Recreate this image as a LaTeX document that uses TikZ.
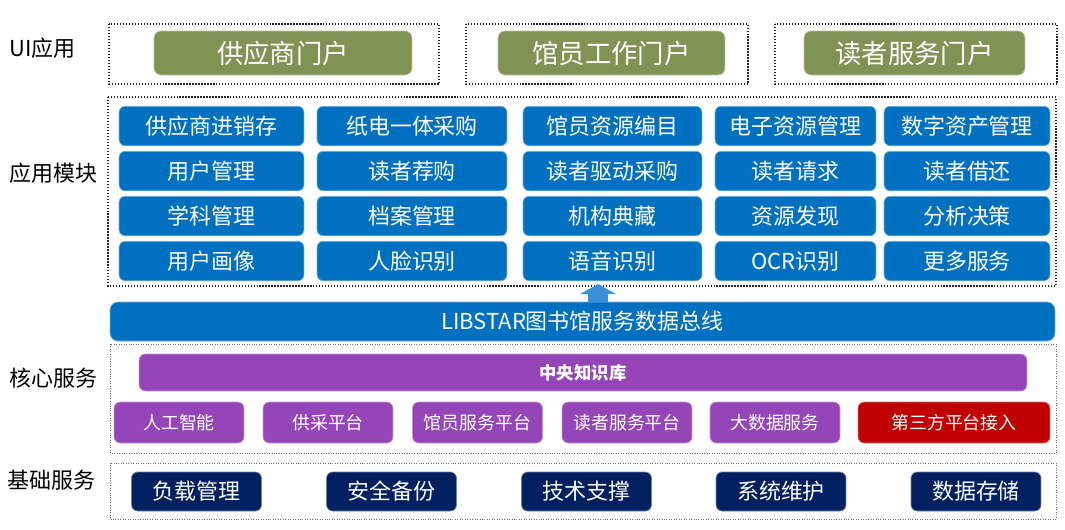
\documentclass[tikz,border=0pt]{standalone}
\usepackage{fontspec}
\setmainfont{Noto Sans CJK SC}
\usetikzlibrary{positioning,arrows.meta}
\definecolor{PortalGreen}{HTML}{7F9354}
\definecolor{ModBlue}{HTML}{0070C0}
\definecolor{BusArrow}{HTML}{3A8FD9}
\definecolor{CorePurple}{HTML}{9446B8}
\definecolor{ThirdRed}{HTML}{C00000}
\definecolor{BaseNavy}{HTML}{002060}

\tikzset{
  layer/.style={draw=black!85, line width=0.7pt, densely dotted},
  lightlayer/.style={draw=black!55, line width=0.4pt, densely dotted},
  portal/.style={fill=PortalGreen, draw=PortalGreen!55!white, line width=0.4pt,
    rounded corners=4pt, text=white, inner sep=0pt, minimum height=0.88cm,
    font=\fontsize{15}{17}\selectfont},
  module/.style={fill=ModBlue, draw=ModBlue!55!white, line width=0.4pt,
    rounded corners=3.5pt, text=white, inner sep=0pt, minimum height=0.79cm,
    font=\fontsize{12.5}{14}\selectfont},
  core/.style={fill=CorePurple, draw=CorePurple!55!white, line width=0.4pt,
    rounded corners=3.5pt, text=white, inner sep=0pt, minimum height=0.82cm,
    minimum width=2.6cm, font=\fontsize{10.2}{12}\selectfont},
  base/.style={fill=BaseNavy, draw=BaseNavy!55!white, line width=0.4pt,
    rounded corners=3.5pt, text=white, inner sep=0pt, minimum height=0.78cm,
    minimum width=2.6cm, font=\fontsize{12.5}{14}\selectfont},
  tier/.style={anchor=west, inner sep=0pt, font=\fontsize{12.5}{14}\selectfont}
}

\begin{document}
\begin{tikzpicture}[x=0.02cm, y=-0.02cm]
  \useasboundingbox (0,0) rectangle (1065,529);
  % tier labels on the left
  \node[tier] (tui)   at (9,48)  {UI应用};
  \node[tier] (tapp)  at (9,173) {应用模块};
  \node[tier] (tcore) at (9,378) {核心服务};
  \node[tier] (tbase) at (7,480) {基础服务};
  % UI tier — three portals, each in its own dotted frame
  \draw[layer] (109,24) rectangle (439,84);
  \draw[layer] (466,24) rectangle (748,84);
  \draw[layer] (775,24) rectangle (1057,84);
  \node[portal, minimum width=5.16cm] (p1) at (283,53)   {供应商门户};
  \node[portal, minimum width=4.54cm] (p2) at (611.5,53) {馆员工作门户};
  \node[portal, minimum width=4.42cm] (p3) at (914.5,53) {读者服务门户};
  % application modules — 4 rows x 5 columns
  \draw[layer] (108,97) rectangle (1056,286);
  \def\cola{211.5} \def\colb{412} \def\colc{612.5} \def\cold{795.5} \def\cole{967}
  \def\mwa{3.7cm} \def\mwb{3.8cm} \def\mwc{3.58cm} \def\mwd{3.22cm} \def\mwe{3.32cm}
  \node[module, minimum width=\mwa] (m11) at (\cola,126) {供应商进销存};
  \node[module, minimum width=\mwb] (m12) at (\colb,126) {纸电一体采购};
  \node[module, minimum width=\mwc] (m13) at (\colc,126) {馆员资源编目};
  \node[module, minimum width=\mwd] (m14) at (\cold,126) {电子资源管理};
  \node[module, minimum width=\mwe] (m15) at (\cole,126) {数字资产管理};
  \node[module, minimum width=\mwa] (m21) at (\cola,171) {用户管理};
  \node[module, minimum width=\mwb] (m22) at (\colb,171) {读者荐购};
  \node[module, minimum width=\mwc] (m23) at (\colc,171) {读者驱动采购};
  \node[module, minimum width=\mwd] (m24) at (\cold,171) {读者请求};
  \node[module, minimum width=\mwe] (m25) at (\cole,171) {读者借还};
  \node[module, minimum width=\mwa] (m31) at (\cola,216) {学科管理};
  \node[module, minimum width=\mwb] (m32) at (\colb,216) {档案管理};
  \node[module, minimum width=\mwc] (m33) at (\colc,216) {机构典藏};
  \node[module, minimum width=\mwd] (m34) at (\cold,216) {资源发现};
  \node[module, minimum width=\mwe] (m35) at (\cole,216) {分析决策};
  \node[module, minimum width=\mwa] (m41) at (\cola,261) {用户画像};
  \node[module, minimum width=\mwb] (m42) at (\colb,261) {人脸识别};
  \node[module, minimum width=\mwc] (m43) at (\colc,261) {语音识别};
  \node[module, minimum width=\mwd] (m44) at (\cold,261) {OCR识别};
  \node[module, minimum width=\mwe] (m45) at (\cole,261) {更多服务};
  % data bus, feeding the modules above
  \node[module, rounded corners=4.5pt, minimum width=18.9cm, minimum height=0.78cm]
    (bus) at (582.5,321.5) {LIBSTAR图书馆服务数据总线};
  \coordinate (arrtip) at (598,284);
  \draw[BusArrow, line width=0.4cm, -{Triangle[width=0.7cm, length=0.2cm]}]
    (bus.north -| arrtip) -- (arrtip);
  % core services
  \draw[lightlayer] (110,344) rectangle (1056,453);
  \node[core, minimum width=17.76cm, minimum height=0.74cm,
    font=\fontsize{9.9}{12}\selectfont\bfseries] (kb) at (583,372.5) {中央知识库};
  \node[core] (c1) at (179,422.5)   {人工智能};
  \node[core] (c2) at (328,422.5)   {供采平台};
  \node[core] (c3) at (477.5,422.5) {馆员服务平台};
  \node[core] (c4) at (627,422.5)   {读者服务平台};
  \node[core] (c5) at (775,422.5)   {大数据服务};
  \node[core, fill=ThirdRed, draw=ThirdRed!55!white, minimum width=3.84cm]
    (c6) at (954,422.5) {第三方平台接入};
  % base services
  \draw[lightlayer] (110,463) rectangle (1056,519);
  \node[base] (b1) at (196.5,491.5) {负载管理};
  \node[base] (b2) at (391.5,491.5) {安全备份};
  \node[base] (b3) at (586.5,491.5) {技术支撑};
  \node[base] (b4) at (781,491.5)   {系统维护};
  \node[base] (b5) at (976,491.5)   {数据存储};
\end{tikzpicture}
\end{document}
